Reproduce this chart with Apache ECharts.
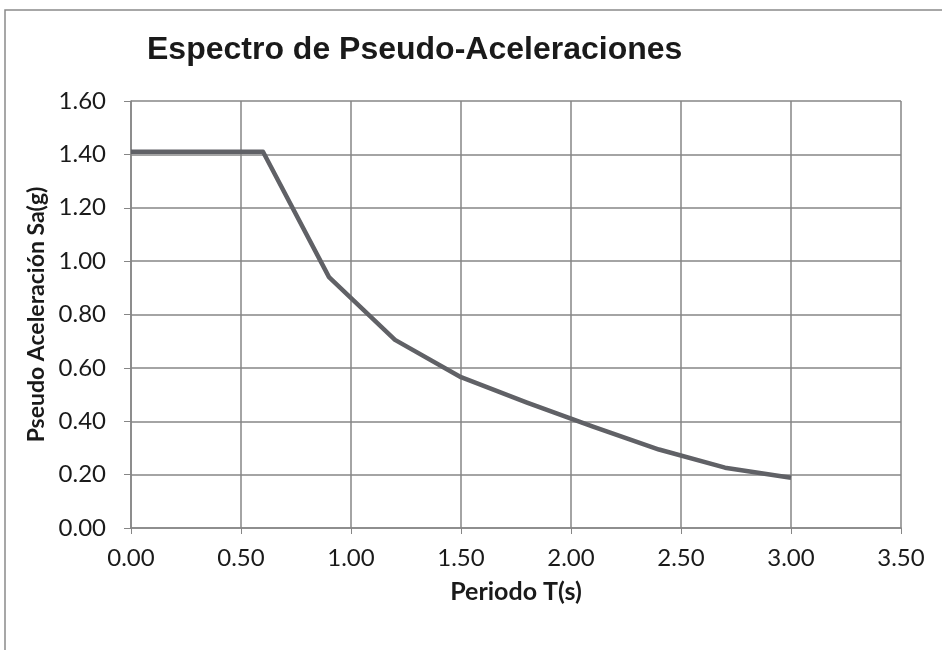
<!DOCTYPE html>
<html>
<head>
<meta charset="utf-8">
<script src="https://cdn.jsdelivr.net/npm/echarts@6/dist/echarts.min.js"></script>
<style>
html,body{margin:0;padding:0;background:#fff;}
#c{width:942px;height:650px;}
</style>
</head>
<body>
<div id="c"></div>
<script>
const titleText = 'Espectro de Pseudo-Aceleraciones';
const xAxisTitle = 'Periodo T(s)';
const yAxisTitle = 'Pseudo Aceleración Sa(g)';
const periods = [0.0, 0.3, 0.6, 0.9, 1.2, 1.5, 1.8, 2.1, 2.4, 2.7, 3.0];
const sa = [1.41, 1.41, 1.41, 0.94, 0.705, 0.565, 0.47, 0.38, 0.294, 0.226, 0.188];
const xTicks = { min: 0, max: 3.5, interval: 0.5 };
const yTicks = { min: 0, max: 1.6, interval: 0.2 };

const data = periods.map((t, i) => [t, sa[i]]);
const chart = echarts.init(document.getElementById('c'), null, { renderer: 'canvas' });
const labelFont = 'Lato, "Open Sans", sans-serif';
chart.setOption({
  animation: false,
  backgroundColor: '#ffffff',
  graphic: [{
    type: 'rect',
    shape: { x: 5, y: 10, width: 1000, height: 700 },
    style: { fill: 'none', stroke: '#8a8a8a', lineWidth: 1.5 },
    silent: true
  }],
  title: {
    text: titleText,
    left: 142,
    top: 29,
    textStyle: { fontFamily: '"Liberation Sans", Arial, sans-serif', fontWeight: 'bold', fontSize: 32, color: '#1a1a1a' }
  },
  grid: { left: 131, right: 41, top: 101, bottom: 122, containLabel: false },
  xAxis: {
    type: 'value',
    min: xTicks.min, max: xTicks.max, interval: xTicks.interval,
    name: xAxisTitle,
    nameLocation: 'middle',
    nameGap: 51,
    nameTextStyle: { fontFamily: labelFont, fontWeight: 'bold', fontSize: 25, color: '#1a1a1a' },
    axisLine: { show: true, lineStyle: { color: '#868686', width: 1.5 } },
    axisTick: { show: true, length: 6, lineStyle: { color: '#868686' } },
    axisLabel: { formatter: v => v.toFixed(2), fontFamily: labelFont, fontSize: 24, color: '#1a1a1a', margin: 18 },
    splitLine: { show: true, lineStyle: { color: '#868686', width: 1.5 } }
  },
  yAxis: {
    type: 'value',
    min: yTicks.min, max: yTicks.max, interval: yTicks.interval,
    name: yAxisTitle,
    nameLocation: 'middle',
    nameGap: 82,
    nameRotate: 90,
    nameTextStyle: { fontFamily: labelFont, fontWeight: 'bold', fontSize: 23, color: '#1a1a1a' },
    axisLine: { show: true, lineStyle: { color: '#868686', width: 1.5 } },
    axisTick: { show: true, length: 7, lineStyle: { color: '#868686' } },
    axisLabel: { formatter: v => v.toFixed(2), fontFamily: labelFont, fontSize: 24, color: '#1a1a1a', margin: 25 },
    splitLine: { show: true, lineStyle: { color: '#868686', width: 1.5 } }
  },
  series: [{
    type: 'line',
    data: data,
    showSymbol: false,
    symbol: 'none',
    lineStyle: { color: '#606166', width: 4.5, join: 'round' },
    z: 5
  }]
});
</script>
</body>
</html>
